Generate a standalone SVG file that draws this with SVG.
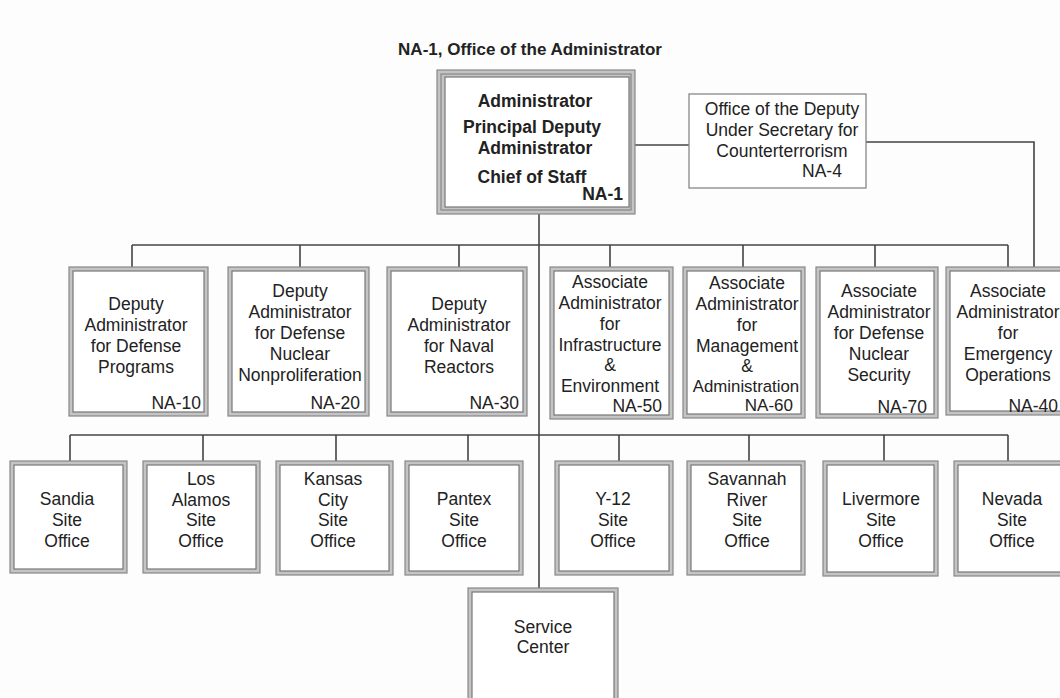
<svg xmlns="http://www.w3.org/2000/svg" width="1060" height="698" viewBox="0 0 1060 698">
<style>
text{font-family:"Liberation Sans",Arial,sans-serif;fill:#222;}
.t{font-size:17.5px;text-anchor:middle;}
.n{font-size:17.5px;text-anchor:end;}
.b{font-weight:bold;}
.o{fill:#c4c4c4;stroke:#888;stroke-width:1.2;}
.i{fill:#fff;stroke:#777;stroke-width:1.2;}
.c{fill:none;stroke:#444;stroke-width:1.6;}
</style>
<rect width="1060" height="698" fill="#fdfdfd"/>
<text x="530" y="55" style="font-size:17px;font-weight:bold;text-anchor:middle">NA-1, Office of the Administrator</text>

<g id="connectors">
<path class="c" d="M635 145H689"/>
<path class="c" d="M866 142H1034V268"/>
<path class="c" d="M539 214V588"/>
<path class="c" d="M132 245H1008"/>
<path class="c" d="M132 245V268M300 245V268M459 245V268M610 245V268M743 245V268M875 245V268M1008 245V268"/>
<path class="c" d="M70 435H1008"/>
<path class="c" d="M70 435V462M203 435V462M336 435V462M468 435V462M619 435V462M749 435V462M884 435V462M1008 435V462"/>
</g>

<g id="admin">
<rect class="o" x="437" y="70" width="198" height="144"/>
<rect x="441" y="74" width="190" height="136" fill="none" stroke="#888" stroke-width="1.2"/>
<rect class="i" x="445" y="77" width="184" height="130"/>
<text class="t b" x="535" y="107">Administrator</text>
<text class="t b" x="532" y="133">Principal Deputy</text>
<text class="t b" x="535" y="154">Administrator</text>
<text class="t b" x="532" y="183">Chief of Staff</text>
<text class="n b" x="623" y="200">NA-1</text>
</g>

<g id="na4">
<rect x="689" y="94" width="177" height="94" fill="#fff" stroke="#888" stroke-width="1.3"/>
<text class="t" x="782" y="115">Office of the Deputy</text>
<text class="t" x="782" y="136">Under Secretary for</text>
<text class="t" x="782" y="157">Counterterrorism</text>
<text class="t" x="822" y="177">NA-4</text>
</g>

<g id="na10">
<rect class="o" x="69" y="267" width="139" height="149"/>
<rect class="i" x="73" y="271" width="131" height="141"/>
<text class="t" x="136" y="310">Deputy</text>
<text class="t" x="136" y="331">Administrator</text>
<text class="t" x="136" y="352">for Defense</text>
<text class="t" x="136" y="373">Programs</text>
<text class="n" x="201" y="409">NA-10</text>
</g>

<g id="na20">
<rect class="o" x="228" y="267" width="141" height="149"/>
<rect class="i" x="232" y="271" width="133" height="141"/>
<text class="t" x="300" y="297">Deputy</text>
<text class="t" x="300" y="318">Administrator</text>
<text class="t" x="300" y="339">for Defense</text>
<text class="t" x="300" y="360">Nuclear</text>
<text class="t" x="300" y="381">Nonproliferation</text>
<text class="n" x="360" y="409">NA-20</text>
</g>

<g id="na30">
<rect class="o" x="387" y="267" width="140" height="149"/>
<rect class="i" x="391" y="271" width="132" height="141"/>
<text class="t" x="459" y="310">Deputy</text>
<text class="t" x="459" y="331">Administrator</text>
<text class="t" x="459" y="352">for Naval</text>
<text class="t" x="459" y="373">Reactors</text>
<text class="n" x="519" y="409">NA-30</text>
</g>

<g id="na50">
<rect class="o" x="550" y="267" width="123" height="152"/>
<rect class="i" x="554" y="271" width="115" height="144"/>
<text class="t" x="610" y="288">Associate</text>
<text class="t" x="610" y="309">Administrator</text>
<text class="t" x="610" y="330">for</text>
<text class="t" x="610" y="351">Infrastructure</text>
<text class="t" x="610" y="371">&amp;</text>
<text class="t" x="610" y="392">Environment</text>
<text class="n" x="662" y="412">NA-50</text>
</g>

<g id="na60">
<rect class="o" x="683" y="267" width="122" height="151"/>
<rect class="i" x="687" y="271" width="114" height="143"/>
<text class="t" x="747" y="289">Associate</text>
<text class="t" x="747" y="310">Administrator</text>
<text class="t" x="747" y="331">for</text>
<text class="t" x="747" y="352">Management</text>
<text class="t" x="747" y="372">&amp;</text>
<text class="t" x="746" y="392" style="font-size:16.8px">Administration</text>
<text class="n" x="793" y="411" style="font-size:17px">NA-60</text>
</g>

<g id="na70">
<rect class="o" x="816" y="267" width="122" height="151"/>
<rect class="i" x="820" y="271" width="114" height="143"/>
<text class="t" x="879" y="297">Associate</text>
<text class="t" x="879" y="318">Administrator</text>
<text class="t" x="879" y="339">for Defense</text>
<text class="t" x="879" y="360">Nuclear</text>
<text class="t" x="879" y="381">Security</text>
<text class="n" x="927" y="413">NA-70</text>
</g>

<g id="na40">
<rect class="o" x="946" y="267" width="124" height="148"/>
<rect class="i" x="950" y="271" width="116" height="140"/>
<text class="t" x="1008" y="297">Associate</text>
<text class="t" x="1008" y="318">Administrator</text>
<text class="t" x="1008" y="339">for</text>
<text class="t" x="1008" y="360">Emergency</text>
<text class="t" x="1008" y="381">Operations</text>
<text class="n" x="1058" y="412">NA-40</text>
</g>

<g id="sandia">
<rect class="o" x="10" y="461" width="117" height="112"/>
<rect class="i" x="14" y="465" width="109" height="104"/>
<text class="t" x="67" y="505">Sandia</text>
<text class="t" x="67" y="526">Site</text>
<text class="t" x="67" y="547">Office</text>
</g>

<g id="losalamos">
<rect class="o" x="143" y="461" width="117" height="112"/>
<rect class="i" x="147" y="465" width="109" height="104"/>
<text class="t" x="201" y="485">Los</text>
<text class="t" x="201" y="506">Alamos</text>
<text class="t" x="201" y="526">Site</text>
<text class="t" x="201" y="547">Office</text>
</g>

<g id="kansascity">
<rect class="o" x="276" y="461" width="117" height="114"/>
<rect class="i" x="280" y="465" width="109" height="106"/>
<text class="t" x="333" y="485">Kansas</text>
<text class="t" x="333" y="506">City</text>
<text class="t" x="333" y="526">Site</text>
<text class="t" x="333" y="547">Office</text>
</g>

<g id="pantex">
<rect class="o" x="405" y="461" width="118" height="114"/>
<rect class="i" x="409" y="465" width="110" height="106"/>
<text class="t" x="464" y="505">Pantex</text>
<text class="t" x="464" y="526">Site</text>
<text class="t" x="464" y="547">Office</text>
</g>

<g id="y12">
<rect class="o" x="555" y="461" width="118" height="114"/>
<rect class="i" x="559" y="465" width="110" height="106"/>
<text class="t" x="613" y="505">Y-12</text>
<text class="t" x="613" y="526">Site</text>
<text class="t" x="613" y="547">Office</text>
</g>

<g id="savannah">
<rect class="o" x="687" y="461" width="118" height="114"/>
<rect class="i" x="691" y="465" width="110" height="106"/>
<text class="t" x="747" y="485">Savannah</text>
<text class="t" x="747" y="506">River</text>
<text class="t" x="747" y="526">Site</text>
<text class="t" x="747" y="547">Office</text>
</g>

<g id="livermore">
<rect class="o" x="823" y="461" width="115" height="115"/>
<rect class="i" x="827" y="465" width="107" height="107"/>
<text class="t" x="881" y="505">Livermore</text>
<text class="t" x="881" y="526">Site</text>
<text class="t" x="881" y="547">Office</text>
</g>

<g id="nevada">
<rect class="o" x="954" y="461" width="116" height="115"/>
<rect class="i" x="958" y="465" width="108" height="107"/>
<text class="t" x="1012" y="505">Nevada</text>
<text class="t" x="1012" y="526">Site</text>
<text class="t" x="1012" y="547">Office</text>
</g>

<g id="servicecenter">
<rect class="o" x="468" y="588" width="150" height="120"/>
<rect class="i" x="472" y="592" width="142" height="120"/>
<text class="t" x="543" y="633">Service</text>
<text class="t" x="543" y="653">Center</text>
</g>
</svg>
